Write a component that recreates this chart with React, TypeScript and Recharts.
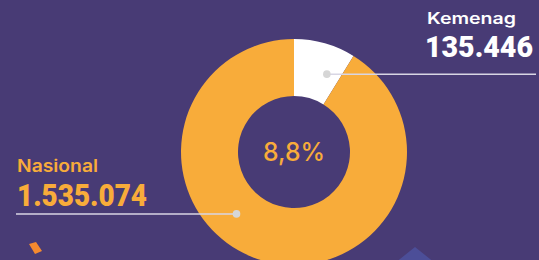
import { PieChart, Pie, Cell } from "recharts";

const kemenag = 135446;
const nasional = 1535074;

const slices = [
  { name: "Kemenag", value: kemenag, color: "#ffffff" },
  { name: "Lainnya", value: nasional - kemenag, color: "#f8ac3a" },
];

const labelNames = ["Kemenag", "Nasional"];
const labelValues = ["135.446", "1.535.074"];

const BG = "#483b75";
const RAD = Math.PI / 180;

const fmtPct = (a: number, b: number) => ((a / b) * 100).toFixed(1).replace(".", ",") + "%";

function renderLabel(props: any) {
  const { cx, cy, midAngle, innerRadius, outerRadius, index } = props;
  const r = (innerRadius + outerRadius) / 2;
  // dots sit a bit off the slice middle, like the original
  const angle = index === 0 ? midAngle - 7 : midAngle - 27;
  const x = cx + r * Math.cos(-angle * RAD);
  const y = cy + r * Math.sin(-angle * RAD);
  if (index === 0) {
    return (
      <g>
        <line x1={x} y1={y} x2={536} y2={y} stroke="#d8d6e4" strokeWidth={1.5} />
        <circle cx={x} cy={y} r={3.8} fill="#d6d6d6" />
        <text x={427} y={24} fill="#ffffff" fontFamily="Inter" fontWeight={600} fontSize={16} textLength={89} lengthAdjust="spacingAndGlyphs">
          {labelNames[0]}
        </text>
        <text x={425} y={57} fill="#ffffff" fontFamily="Roboto" fontWeight={900} fontSize={30} textLength={108} lengthAdjust="spacingAndGlyphs">
          {labelValues[0]}
        </text>
        <text x={cx} y={cy + 9} textAnchor="middle" fill="#f8ac3a" fontFamily="Inter" fontWeight={500} fontSize={25} textLength={62} lengthAdjust="spacingAndGlyphs">
          {fmtPct(kemenag, nasional)}
        </text>
      </g>
    );
  }
  return (
    <g>
      <line x1={16} y1={y} x2={x} y2={y} stroke="#d8d6e4" strokeWidth={1.5} />
      <circle cx={x} cy={y} r={3.8} fill="#d6d6d6" />
      <text x={17} y={172} fill="#f8ac3a" fontFamily="Inter" fontWeight={600} fontSize={17} textLength={81} lengthAdjust="spacingAndGlyphs">
        {labelNames[1]}
      </text>
      <text x={17} y={206} fill="#f8ac3a" fontFamily="Roboto" fontWeight={900} fontSize={32} textLength={130} lengthAdjust="spacingAndGlyphs">
        {labelValues[1]}
      </text>
    </g>
  );
}

export default function App() {
  return (
    <div style={{ position: "absolute", left: 0, top: 0, width: 539, height: 260, background: BG, overflow: "hidden" }}>
      <svg width={539} height={260} style={{ position: "absolute", left: 0, top: 0 }}>
        <polygon points="29,244 36,242 42,251 35,254" fill="#f58a2f" />
        <polygon points="415,247 450,275 380,275" fill="#4c4e98" />
      </svg>
      <div style={{ position: "absolute", left: 0, top: 0 }}>
        <PieChart width={539} height={260} margin={{ top: 0, right: 0, bottom: 0, left: 0 }}>
          <Pie
            data={slices}
            dataKey="value"
            cx={294}
            cy={152}
            innerRadius={56}
            outerRadius={113}
            startAngle={90}
            endAngle={-270}
            stroke="none"
            labelLine={false}
            label={renderLabel}
            isAnimationActive={false}
          >
            {slices.map((s) => (
              <Cell key={s.name} fill={s.color} />
            ))}
          </Pie>
        </PieChart>
      </div>
    </div>
  );
}
